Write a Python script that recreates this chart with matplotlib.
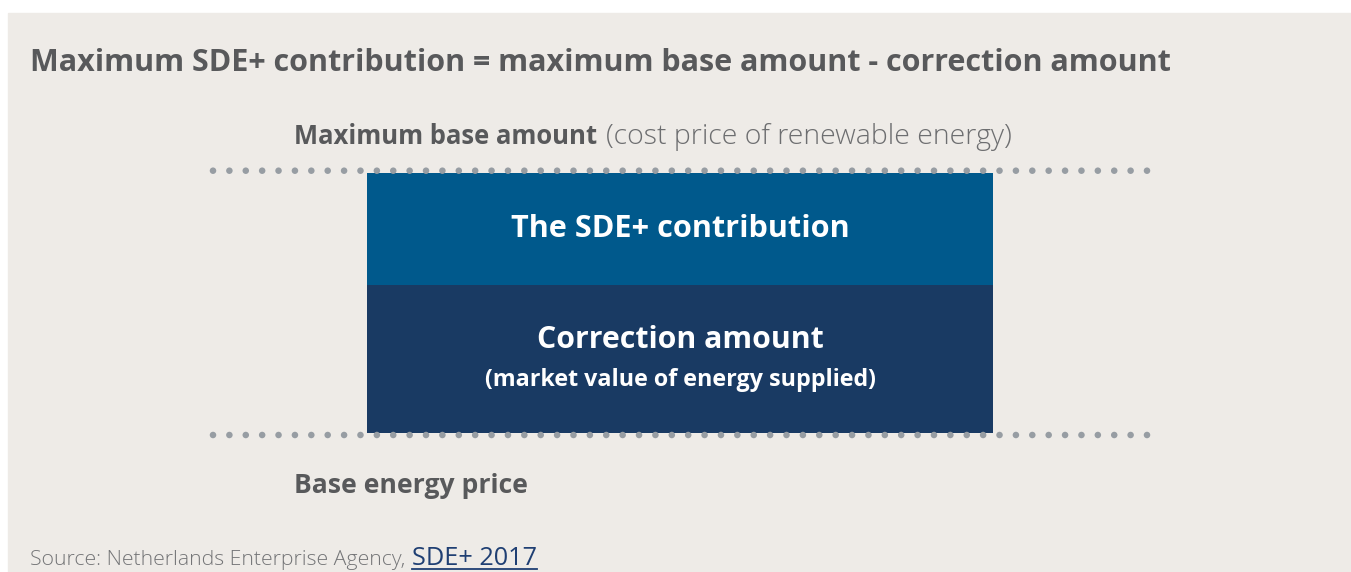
import numpy as np
import matplotlib
matplotlib.use("Agg")
import matplotlib.pyplot as plt
from matplotlib.patches import Rectangle

# Texts
title = "Maximum SDE+ contribution = maximum base amount - correction amount"
top_label_bold = "Maximum base amount"
top_label_light = "(cost price of renewable energy)"
bottom_label = "Base energy price"
segment_labels = ["Correction amount", "The SDE+ contribution"]
segment_sublabels = ["(market value of energy supplied)", ""]
source_text = "Source: Netherlands Enterprise Agency,"
source_link = "SDE+ 2017"

# Stacked segments (arbitrary units, from the base energy price upward)
segment_values = [148, 112]
segment_colors = ["#193A63", "#00598C"]

bg = "#EEEBE7"
grey = "#58595B"
font = ["Open Sans", "DejaVu Sans"]

W, H = 1351, 572
fig = plt.figure(figsize=(W / 100, H / 100), dpi=100)
fig.patch.set_facecolor("white")
fig.canvas.draw()
r = fig.canvas.get_renderer()


def fit(txt, width):
    # scale font so the text spans the given pixel width
    w = txt.get_window_extent(r).width
    txt.set_fontsize(txt.get_fontsize() * width / w)
    return txt


# background panel
back = fig.add_axes([0, 0, 1, 1])
back.set_xlim(0, W)
back.set_ylim(H, 0)
back.axis("off")
back.add_patch(Rectangle((8, 13), W - 8, H - 13, color=bg, zorder=0))

# diagram axes: y in value units, x in 0..1 across the dotted lines
x0, x1 = 213, 1147
y_base, y_top = 433, 173
ax = fig.add_axes([x0 / W, (H - y_base) / H, (x1 - x0) / W, (y_base - y_top) / H])
ax.set_xlim(0, 1)
total = sum(segment_values)
ax.set_ylim(0, total)
ax.axis("off")

bar_w = (993 - 367) / (x1 - x0)
bar_x = (680 - x0) / (x1 - x0)
bottoms = np.cumsum([0] + segment_values[:-1])
ax.bar([bar_x] * 2, segment_values, bottom=bottoms, width=bar_w,
       color=segment_colors, zorder=1)

# dotted reference lines
dots_x = np.linspace(0, 1, 58)
for lvl, off in [(0, -2), (total, 2.3)]:
    ax.scatter(dots_x, np.full_like(dots_x, lvl + off), s=22, color="#979DA3",
               edgecolors="none", zorder=3, clip_on=False)

# overlay for all text, pixel coordinates
over = fig.add_axes([0, 0, 1, 1])
over.set_xlim(0, W)
over.set_ylim(H, 0)
over.axis("off")
over.patch.set_alpha(0)

# labels inside the boxes
fit(over.text(680, 237, segment_labels[1], ha="center", va="baseline",
              color="white", fontsize=20, fontweight="bold", family=font), 339)
fit(over.text(680, 348, segment_labels[0], ha="center", va="baseline",
              color="white", fontsize=20, fontweight="bold", family=font), 286)
fit(over.text(680, 386, segment_sublabels[0], ha="center", va="baseline",
              color="white", fontsize=15, fontweight="bold", family=font), 391)

# titles
fit(over.text(30, 71, title, ha="left", va="baseline", color=grey, fontsize=22,
              fontweight="bold", family=font), 1140)
fit(over.text(294, 144, top_label_bold, ha="left", va="baseline", color=grey,
              fontsize=18, fontweight="bold", family=font), 304)
fit(over.text(606, 144, top_label_light, ha="left", va="baseline", color="#6D6E70",
              fontsize=18, fontweight="light", family=font), 408)
fit(over.text(294, 493, bottom_label, ha="left", va="baseline", color=grey,
              fontsize=18, fontweight="bold", family=font), 234)

fit(over.text(30, 565, source_text, ha="left", va="baseline",
              color="#747577", fontsize=13, fontweight="light", family=font), 374)
lk = fit(over.text(412, 565, source_link, ha="left", va="baseline",
                   color="#1F3F73", fontsize=16, family=font), 125)
lb = lk.get_window_extent(r)
over.plot([lb.x0, lb.x1], [569, 569], color="#1F3F73", lw=1.3)

fig.savefig("out.png", dpi=100, facecolor="white")
